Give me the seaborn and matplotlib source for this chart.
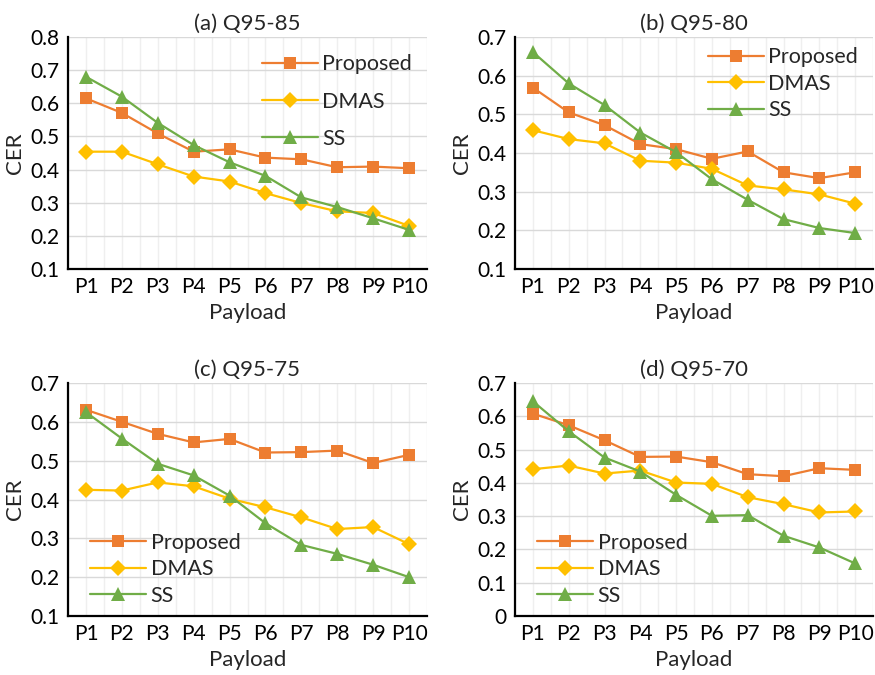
import numpy as np
import pandas as pd
import matplotlib
matplotlib.use("Agg")
import matplotlib.pyplot as plt
from matplotlib.ticker import MultipleLocator
import seaborn as sns

# Data
payloads = ["P1", "P2", "P3", "P4", "P5", "P6", "P7", "P8", "P9", "P10"]
methods = ["Proposed", "DMAS", "SS"]

titles = ["(a) Q95-85", "(b) Q95-80", "(c) Q95-75", "(d) Q95-70"]

proposed_a = [0.615, 0.571, 0.509, 0.454, 0.461, 0.436, 0.431, 0.407, 0.409, 0.404]
dmas_a = [0.454, 0.454, 0.416, 0.379, 0.364, 0.329, 0.299, 0.274, 0.269, 0.230]
ss_a = [0.680, 0.620, 0.541, 0.474, 0.422, 0.381, 0.316, 0.287, 0.253, 0.218]

proposed_b = [0.569, 0.505, 0.472, 0.423, 0.410, 0.385, 0.404, 0.350, 0.335, 0.350]
dmas_b = [0.459, 0.436, 0.425, 0.380, 0.375, 0.359, 0.316, 0.306, 0.293, 0.269]
ss_b = [0.661, 0.580, 0.524, 0.453, 0.402, 0.332, 0.279, 0.229, 0.206, 0.193]

proposed_c = [0.631, 0.600, 0.569, 0.547, 0.556, 0.521, 0.522, 0.526, 0.494, 0.515]
dmas_c = [0.425, 0.423, 0.444, 0.434, 0.402, 0.380, 0.354, 0.324, 0.329, 0.285]
ss_c = [0.625, 0.557, 0.492, 0.462, 0.410, 0.339, 0.283, 0.260, 0.232, 0.200]

proposed_d = [0.608, 0.573, 0.528, 0.478, 0.479, 0.462, 0.426, 0.420, 0.444, 0.439]
dmas_d = [0.441, 0.452, 0.428, 0.437, 0.401, 0.397, 0.357, 0.336, 0.311, 0.314]
ss_d = [0.645, 0.555, 0.476, 0.434, 0.364, 0.301, 0.303, 0.241, 0.206, 0.158]

ylims = [(0.1, 0.8), (0.1, 0.7), (0.1, 0.7), (0.0, 0.7)]
legend_locs = ["upper right", "upper right", "lower left", "lower left"]
legend_spacing = [0.8, 0.3, 0.3, 0.3]
legend_anchor = [(1.0, 0.99), (1.0, 1.02), (0.02, -0.02), (0.02, -0.02)]

panels = [
    (proposed_a, dmas_a, ss_a),
    (proposed_b, dmas_b, ss_b),
    (proposed_c, dmas_c, ss_c),
    (proposed_d, dmas_d, ss_d),
]

palette = {"Proposed": "#ED7D31", "DMAS": "#FFC000", "SS": "#70AD47"}
marker_map = {"Proposed": "s", "DMAS": "D", "SS": "^"}
marker_size = {"Proposed": 9, "DMAS": 8, "SS": 10}

sns.set_style("white")
plt.rcParams["font.family"] = ["Lato", "DejaVu Sans"]

fig = plt.figure(figsize=(8.75, 6.75), dpi=100)
W, H = 875, 675
boxes = [(68, 37, 427, 269), (515, 37, 873, 269),
         (68, 383, 427, 616), (515, 383, 873, 616)]

for i, (vals, box) in enumerate(zip(panels, boxes)):
    l, t, r, b = box
    ax = fig.add_axes([l / W, 1 - b / H, (r - l) / W, (b - t) / H])
    df = pd.DataFrame({
        "Payload": payloads * 3,
        "CER": vals[0] + vals[1] + vals[2],
        "method": np.repeat(methods, len(payloads)),
    })
    for m in methods:
        sub = df[df["method"] == m]
        sns.lineplot(data=sub, x="Payload", y="CER", ax=ax, color=palette[m],
                     marker=marker_map[m], markersize=marker_size[m],
                     markeredgewidth=0, linewidth=1.6, label=m, sort=False,
                     zorder=3)

    ax.set_xlim(-0.5, 9.5)
    ax.set_ylim(*ylims[i])
    ax.yaxis.set_major_locator(MultipleLocator(0.1))
    ax.yaxis.set_major_formatter(plt.FuncFormatter(lambda v, p: "0" if abs(v) < 1e-9 else f"{v:.1f}"))
    ax.xaxis.set_minor_locator(MultipleLocator(0.5))
    ax.grid(axis="y", which="major", color="#d9d9d9", linewidth=1.0, zorder=0)
    ax.grid(axis="x", which="both", color="#efefef", linewidth=1.0, zorder=0)
    ax.set_axisbelow(True)

    for s in ["top", "right"]:
        ax.spines[s].set_visible(False)
    for s in ["left", "bottom"]:
        ax.spines[s].set_linewidth(1.6)
        ax.spines[s].set_color("black")
    ax.tick_params(axis="both", which="major", direction="in", length=5,
                   width=1.4, labelsize=15, pad=6, colors="black")
    ax.tick_params(axis="x", which="minor", length=0)

    ax.set_title(titles[i], fontsize=16, pad=5)
    ax.set_xlabel("Payload", fontsize=16, labelpad=4)
    ax.set_ylabel("CER", fontsize=16, labelpad=4)

    ax.legend(loc=legend_locs[i], bbox_to_anchor=legend_anchor[i],
              frameon=False, fontsize=15.5, handlelength=2.6,
              handletextpad=0.2, labelspacing=legend_spacing[i],
              borderaxespad=0.3)

fig.savefig("out.png", dpi=100)
